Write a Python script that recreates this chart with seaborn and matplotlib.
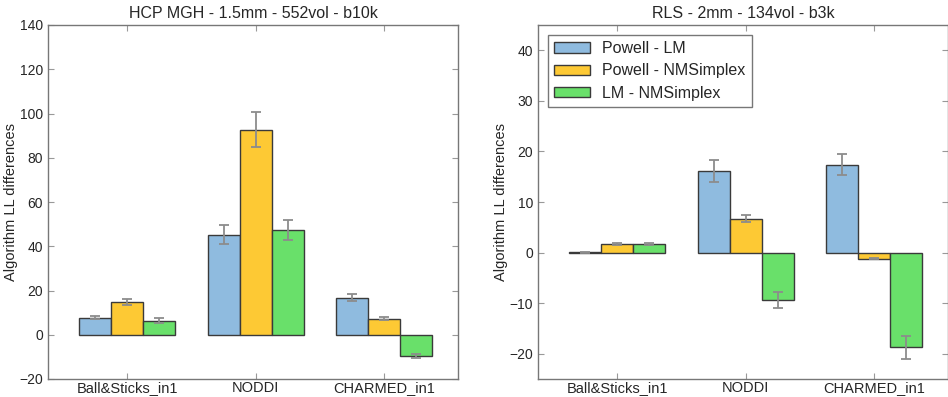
import matplotlib
matplotlib.use("Agg")
import matplotlib.pyplot as plt
import seaborn as sns
import pandas as pd

categories = ["Ball&Sticks_in1", "NODDI", "CHARMED_in1"]
series = ["Powell - LM", "Powell - NMSimplex", "LM - NMSimplex"]

# HCP MGH panel
hcp_powell_lm = [7.7, 45.2, 16.7]
hcp_powell_nm = [14.9, 92.7, 7.3]
hcp_lm_nm = [6.4, 47.5, -9.5]
hcp_err_powell_lm = [0.6, 4.2, 1.6]
hcp_err_powell_nm = [1.4, 8.0, 0.6]
hcp_err_lm_nm = [1.3, 4.5, 0.9]

# RLS panel
rls_powell_lm = [0.05, 16.2, 17.4]
rls_powell_nm = [1.75, 6.7, -1.2]
rls_lm_nm = [1.75, -9.4, -18.7]
rls_err_powell_lm = [0.05, 2.2, 2.1]
rls_err_powell_nm = [0.2, 0.75, 0.1]
rls_err_lm_nm = [0.2, 1.55, 2.3]

titles = ["HCP MGH - 1.5mm - 552vol - b10k", "RLS - 2mm - 134vol - b3k"]
colors = ["#8fbbdf", "#fdc934", "#69e06a"]

sns.set_style("ticks")
plt.rcParams["font.family"] = ["Liberation Sans", "DejaVu Sans"]


def build(vals, errs):
    rows = []
    for s, v, e in zip(series, vals, errs):
        for c, vv, ee in zip(categories, v, e):
            rows.append({"model": c, "pair": s, "value": vv, "err": ee})
    return pd.DataFrame(rows)


panels = [
    (build([hcp_powell_lm, hcp_powell_nm, hcp_lm_nm],
           [hcp_err_powell_lm, hcp_err_powell_nm, hcp_err_lm_nm]), (-20, 140), range(-20, 141, 20)),
    (build([rls_powell_lm, rls_powell_nm, rls_lm_nm],
           [rls_err_powell_lm, rls_err_powell_nm, rls_err_lm_nm]), (-25, 45), range(-20, 41, 10)),
]

fig = plt.figure(figsize=(9.48, 3.97), dpi=100)
ax1 = fig.add_axes([48 / 948, 18 / 397, 410 / 948, 354 / 397])
ax2 = fig.add_axes([538 / 948, 18 / 397, 410 / 948, 354 / 397])

for i, (ax, (df, ylim, yticks)) in enumerate(zip([ax1, ax2], panels)):
    sns.barplot(data=df, x="model", y="value", hue="pair", order=categories,
                hue_order=series, palette=colors, width=0.75, errorbar=None,
                edgecolor="#3a3a3a", linewidth=1.0, saturation=1, ax=ax,
                legend=(i == 1))
    for cont, s in zip(ax.containers, series):
        sub = df[df["pair"] == s].set_index("model").loc[categories]
        xs = [b.get_x() + b.get_width() / 2 for b in cont]
        ax.errorbar(xs, sub["value"].values, yerr=sub["err"].values, fmt="none",
                    ecolor="#8c8c8c", elinewidth=1.3, capsize=3.5, capthick=1.3, zorder=5)
    ax.set_xlim(-0.62, 2.58)
    ax.set_ylim(*ylim)
    ax.set_yticks(list(yticks))
    ax.set_xlabel("")
    ax.set_ylabel("Algorithm LL differences", fontsize=10.5, labelpad=1)
    ax.set_title(titles[i], fontsize=11.5, pad=5)
    ax.tick_params(direction="in", top=True, right=True, labelsize=10,
                   color="#999999", length=4)
    ax.tick_params(axis="x", labelsize=10.5, pad=1.5)
    for sp in ax.spines.values():
        sp.set_visible(True)
        sp.set_color("#777777")
        sp.set_linewidth(1.0)

leg = ax2.legend(loc="upper left", fontsize=11.5, frameon=True, fancybox=False,
                 edgecolor="#555555", borderpad=0.4, handlelength=2.2,
                 handleheight=0.6, labelspacing=0.45, bbox_to_anchor=(0.005, 0.995))
leg.get_frame().set_linewidth(1.0)

fig.savefig("out.png", dpi=100)
